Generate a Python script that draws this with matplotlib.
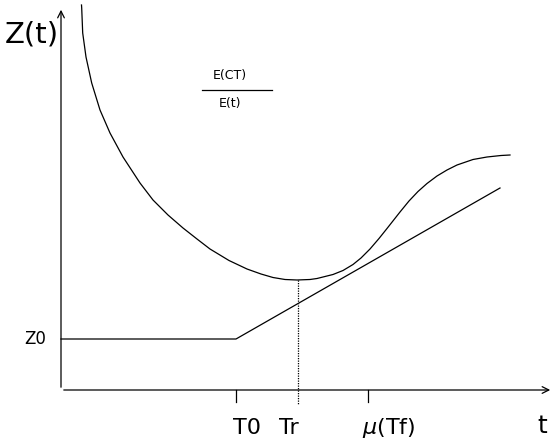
import matplotlib
matplotlib.use("Agg")
import matplotlib.pyplot as plt

# Z(t) curve (axis units, origin at the corner of the axes)
curve_t = [20.5, 20.7, 21.7, 25, 30.7, 39, 49, 62, 79, 92, 107, 122, 136, 149, 168, 186, 200, 212,
           224, 236, 249, 256, 272, 282, 292, 300, 309, 318, 326, 339, 348, 357, 366, 376, 386, 396,
           412, 426, 440, 449]
curve_z = [385, 382, 357, 333, 307, 280, 257, 233, 207, 190, 175, 162, 151, 141, 129.5, 121, 116, 112.5,
           110.5, 110, 110.5, 111.5, 115.5, 119.5, 125.5, 132, 141, 151.5, 161.5, 178, 189, 198.5, 206.5,
           214, 220, 225, 230.5, 233, 234.5, 235]

# lower bound: flat at Z0 until T0, then linear
bound_t = [0, 175, 439]
bound_z = [51, 51, 202]

z0 = 51
tick_pos = [175, 237, 307]
tick_labels = ["T0", "Tr", r"$\mu$(Tf)"]
tr = 237
z_min = 110

fig = plt.figure(figsize=(5.53, 4.41), dpi=100)
ax = fig.add_axes([0, 0, 1, 1])
ax.set_xlim(-61, 492)
ax.set_ylim(-51, 390)
ax.axis("off")

lw = 0.9
# axes with open arrows
ax.annotate("", xy=(0, 383), xytext=(0, 0),
            arrowprops=dict(arrowstyle="->", lw=lw, color="black", mutation_scale=12))
ax.annotate("", xy=(492, 0), xytext=(0, 0),
            arrowprops=dict(arrowstyle="->", lw=lw, color="black", mutation_scale=12))

ax.plot(curve_t, curve_z, color="black", lw=lw, solid_joinstyle="round")
ax.plot(bound_t, bound_z, color="black", lw=lw)

# ticks below the t axis
for x in (tick_pos[0], tick_pos[2]):
    ax.plot([x, x], [0, -12], color="black", lw=lw)
ax.plot([tr, tr], [z_min, -15], color="black", lw=lw, linestyle=(0, (1, 1)))

# labels
ax.text(-56, 355, "Z(t)", fontsize=21, ha="left", va="center")
ax.text(-26, z0, "Z0", fontsize=12, ha="center", va="center")
label_x = [186, 228, 328]
for x, s in zip(label_x, tick_labels):
    ax.text(x, -38, s, fontsize=16, ha="center", va="center")
ax.text(481, -36, "t", fontsize=18, ha="center", va="center")

# fraction E(CT)/E(t)
ax.text(169, 314, "E(CT)", fontsize=9, ha="center", va="center")
ax.plot([141, 211], [300, 300], color="black", lw=lw)
ax.text(169, 287, "E(t)", fontsize=9, ha="center", va="center")

fig.savefig("out.png", dpi=100)
